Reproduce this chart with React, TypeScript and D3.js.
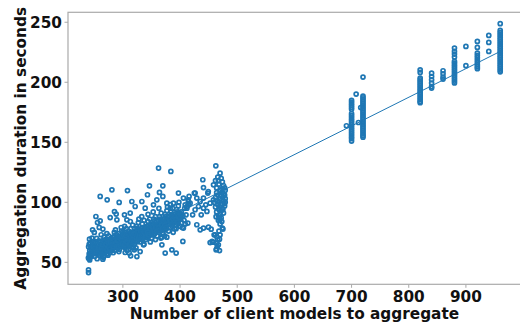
import React from "react";
import * as d3 from "d3";

// ---- data ----
const xTicks = [300, 400, 500, 600, 700, 800, 900];
const yTicks = [50, 100, 150, 200, 250];

// dense band of the small runs
const bandPoints: [number, number][] = [
  [240,54],[241,57],[242,60],[240,63],[243,66],[245,55],[246,59],[244,62],[247,64],[248,57],[249,61],[242,52],[246,67],[250,58],[250,64],[243,58],
  [251,55],[252,60],[253,63],[254,57],[255,66],[256,61],[257,59],[258,68],[259,56],[260,63],[252,67],[255,53],[258,62],[254,70],
  [261,58],[262,65],[263,61],[264,68],[265,57],[266,63],[267,71],[268,60],[269,66],[270,62],[262,73],[266,55],[269,69],[264,59],
  [271,59],[272,64],[273,68],[274,61],[275,72],[276,66],[277,58],[278,63],[279,70],[280,60],[272,74],[276,69],[279,65],[274,56],
  [281,62],[282,67],[283,71],[284,64],[285,75],[286,60],[287,69],[288,65],[289,73],[290,62],[283,58],[287,77],[289,67],
  [291,64],[292,70],[293,74],[294,61],[295,67],[296,72],[297,65],[298,76],[299,69],[300,63],[293,59],[297,79],[300,72],
  [301,66],[302,71],[303,75],[304,62],[305,68],[306,78],[307,64],[308,73],[309,70],[310,66],[303,80],[307,60],[310,76],
  [311,68],[312,74],[313,64],[314,78],[315,71],[316,66],[317,81],[318,69],[319,75],[320,65],[313,84],[318,62],[320,78],
  [321,70],[322,76],[323,67],[324,80],[325,73],[326,68],[327,83],[328,71],[329,77],[330,67],[323,62],[328,86],
  [331,72],[332,78],[333,69],[334,82],[335,75],[336,70],[337,85],[338,73],[339,79],[340,69],[333,88],[337,65],
  [341,74],[342,80],[343,71],[344,84],[345,77],[346,72],[347,86],[348,75],[349,81],[350,70],[344,90],[348,67],
  [351,76],[352,82],[353,73],[354,86],[355,79],[356,74],[357,88],[358,77],[359,84],[360,72],[353,92],[357,69],
  [361,78],[362,84],[363,75],[364,88],[365,81],[366,76],[367,91],[368,79],[369,86],[370,74],[363,95],[368,71],
  [371,80],[372,86],[373,77],[374,90],[375,83],[376,78],[377,93],[378,81],[379,88],[380,76],[373,72],[378,96],
  [381,82],[382,88],[383,79],[384,92],[385,85],[386,80],[387,95],[388,83],[389,90],[390,78],[383,98],[388,75],
  [391,84],[392,90],[393,81],[394,94],[395,87],[396,82],[397,97],[398,85],[399,91],[400,80],[393,78],[398,100],
  [401,86],[402,92],[403,83],[405,89],[407,85],[408,95],[404,79],[409,82],
];

// more readings inside the band, where it is solid
const bandFill: [number, number][] = [
  [244,56.5],[247,60.5],[241,65],[249,66],[252,57.5],[256,64.5],[259,59.5],[261,67],[263,56.5],[265,62],[268,65.5],
  [271,62.5],[273,57],[275,64],[277,68.5],[280,66.5],[282,60],[284,69],[286,64],[288,71],[290,67.5],[292,62.5],
  [294,66],[296,69.5],[298,64],[300,75],[302,68.5],[304,73],[306,65],[308,69],[310,71],[312,66],[314,70.5],
  [316,74.5],[318,72],[320,69],[322,73],[324,67.5],[326,77],[328,74],[330,71],[332,74.5],[334,72],[336,77],
  [338,76],[340,73],[342,77],[344,74],[346,79],[348,78.5],[350,75],[352,79],[354,76.5],[356,81],[358,80.5],
  [360,77],[362,80.5],[364,78],[366,84],[368,82.5],[370,79],[372,83],[374,80.5],[376,86],[378,85],[380,82],
  [382,85],[384,82.5],[386,88],[388,87],[390,84],[392,87],[394,84.5],[396,90],[398,88.5],[400,86],[402,89],
  [395,92],[385,90],[375,88],[365,86],[355,84],[345,81],[335,79],[325,75],[315,73],[305,70],[295,70],
  [285,68],[275,66.5],[265,65],[255,61],[245,58],
];

// further band readings between the two sets above
const bandCore: [number, number][] = [
  [242,55.5],[245,61.5],[248,63],[251,62],[253,59],[257,62.5],[260,60],[262,62],[264,64.5],[267,58.5],[267,67.5],
  [270,65],[272,60.5],[274,66.5],[277,61],[278,67],[281,65],[283,63],[285,71.5],[287,66],[289,63.5],[291,68],
  [293,71],[295,64],[297,71.5],[299,66],[301,73],[303,64.5],[305,72],[307,67],[309,74],[311,65],[313,71],
  [315,68],[317,72],[319,67],[321,74],[323,70.5],[325,78],[327,70],[329,73.5],[331,76],[333,72],[335,71.5],
  [337,75],[339,71],[341,78],[343,75],[345,73],[347,78],[349,74],[351,80],[353,77],[355,75.5],[357,79],
  [359,76],[361,82],[363,79],[365,77],[367,81],[369,78],[371,84],[373,81],[375,79],[377,85],[379,82],
  [381,86],[383,84],[385,81.5],[387,86],[389,85],[391,88],[393,86],[395,83.5],[397,88],[399,87],[401,90],
];

// scattered points above the band
const upperPoints: [number, number][] = [
  [362.4,128.5],[383.9,125.7],[280.8,110.4],[308,109.8],[260.3,104.9],[272.5,102.1],[293.5,99.9],[315.7,100.7],
  [333.2,100.7],[346.5,113.7],[343,106.3],[364,108.2],[369.9,113.7],[359.4,102.1],[369.9,104.9],[397.2,107.7],
  [388.5,99.3],[321.5,96.5],[339,95.1],[353.5,97.9],[376.9,99.3],[382.7,95.1],[405.9,103.5],[411.9,96.5],
  [252.8,88.2],[255.6,83.2],[260.3,84.6],[247,77.1],[250,74.9],[241.6,69.3],[285.3,92.3],[288.3,90.2],
  [277.8,87.3],[289.5,85.4],[302.8,89.6],[307,85.4],[312.8,91],[265,77.7],[258.6,79.1],[245.9,70.2],
];

// scattered points below the band
const lowerPoints: [number, number][] = [
  [239.9,43.7],[239.9,41.5],[239.9,53.5],[266,54.3],[260.3,55.4],[265,52.6],[241.7,53.5],[304,58.2],[309.8,60.4],
  [313.6,55.4],[311.3,57.7],[320,60.4],[324.5,54.8],[330.2,59],[315.7,63.2],[336,64.6],[368.2,64.6],[374,57.7],
  [385.7,60.4],[393.2,57.7],[404.9,67.4],[366.4,70.2],[405.9,78.5],[376.9,71],
];

// sparse region between 400 and 460
const middlePoints: [number, number][] = [
  [439.8,118.8],[441,112.3],[448.6,107.7],[426.4,107.7],[414.2,102.1],[414.8,98],[425,107.7],[449.4,109],
  [414.7,100.7],[417.6,99.3],[408.9,97.9],[429.3,103.5],[435.1,100.7],[441,103.5],[445,97.9],[452.6,99.3],
  [458.5,102.1],[432.2,96.5],[441,95.1],[426.3,93.8],[422,89.6],[437,89.6],[447,92.4],[412,95.1],[410.5,89.6],
  [413.6,82.7],[429.3,81.3],[435.2,77.1],[441,78.5],[449.7,79.3],[454.4,77.6],[415.8,104.9],
];

// dense column near 470 clients
const columnPoints: [number, number][] = [
  [462,118],[466,121],[470,124.3],[472,120],[474,117],[476,114],[478,112],[468,115],[464,112],[470,110],
  [474,108],[478,106],[466,106],[462,104],[470,103],[476,101],[479,103],[472,99],[466,98],[462,96],
  [468,94],[474,95],[478,97],[464,92],[470,90],[476,91],[472,87],[467,85],[470,85.4],[474,78.5],
  [462.6,130.4],[458.5,114.6],[464,108],[468,100],[460,100],[472,93],[476,107],[479,110],[463,88],[475,104],
  [469,86.8],[473,84],[475,77.7],[470,72.9],[469,69.3],[467,64.6],[464,61],[469,59.8],[458,66.8],[452.6,66.5],
  [459.6,72.9],[461.4,72.9],[464,71.5],[466,68.8],[464,66],[465,63.2],[463,60.4],[456,67.4],[470,82],[468,76],
  [467,118],[473,111],[471,106],[465,101],[477,99],[469,96],[473,102],[467,89],[475,94],[479,100],
];

// vertical strips of the large runs: client counts and their durations
const stripX = [700, 720, 820, 840, 860, 880, 900, 920, 940, 960];
const strip700 = [185, 183.5, 182, 180.5, 179, 177.5, 174, 172.5, 171, 169.5, 168, 166.5, 165, 163.5, 162, 160.5, 159, 157.5, 156, 154.5, 153, 151];
const strip720 = [188.5, 187, 185.5, 184, 182.5, 181, 179.5, 178, 176.5, 175, 173.5, 172, 170.5, 169, 167.5, 166, 164.5, 163, 161.5, 160, 158.5, 157, 155.5, 154.3, 204.3];
const strip820 = [210.4, 208.2, 203.5, 202, 200.5, 199, 197.5, 196, 194.5, 193, 191.5, 190, 188.5, 187, 185.5, 184, 183];
const strip840 = [207.6, 204.8, 202.1, 199.3, 196.5, 195.2];
const strip860 = [209.6, 207.1, 204.3, 202.7];
const strip880 = [228.5, 225.7, 223.5, 221, 217.4, 216, 214.5, 213, 211.5, 210, 208.5, 207, 205.5, 204, 202.5, 201, 199.5];
const strip900 = [229.9, 213.8];
const strip920 = [234, 229, 224.3, 222.5, 220.5, 218.5, 216.5, 214.5, 212.8, 211.3];
const strip940 = [239, 233.2, 225.7];
const strip960 = [248.8, 243.2, 241.7, 240.2, 238.7, 237.2, 235.7, 234.2, 232.7, 231.2, 229.7, 228.2, 226.7, 225.2, 223.7, 222.2, 220.7, 219.2, 217.7, 216.2, 214.7, 213.2, 211.7, 210.2, 208.7];
const stripY = [strip700, strip720, strip820, strip840, strip860, strip880, strip900, strip920, strip940, strip960];

// stray points next to the 700/720 strips
const nearStrips: [number, number][] = [[691, 163.8], [708, 190.2], [712, 166.5], [716, 179]];

// fitted line
const fitX = [240, 960];
const fitY = [53.8, 225.7];

const W = 520;
const H = 326;
const left = 68;
const right = 520.8;
const top = 12.3;
const bottom = 284.3;
const BLUE = "#1f77b4";
const FONT = "'DejaVu Sans', sans-serif";
const FS = 15.3;

export default function App() {
  const x = d3.scaleLinear().domain([204, 996]).range([left, right]);
  const y = d3.scaleLinear().domain([31.7, 258.3]).range([bottom, top]);

  const stripPoints: [number, number][] = [];
  stripX.forEach((sx, i) => stripY[i].forEach((v) => stripPoints.push([sx, v])));

  const all: [number, number][] = [
    ...bandPoints, ...bandFill, ...bandCore, ...upperPoints, ...lowerPoints, ...middlePoints, ...columnPoints, ...stripPoints, ...nearStrips,
  ];

  const line = d3.line<number>().x((d) => x(d)).y((_, i) => y(fitY[i]))(fitX) || "";

  return (
    <svg width={W} height={H} style={{ position: "absolute", left: 0, top: 0, background: "#fff" }}>
      <rect x={0} y={0} width={W} height={H} fill="#fff" />
      <g>
        {all.map((p, i) => (
          <circle key={i} cx={x(p[0])} cy={y(p[1])} r={2.0} fill="none" stroke={BLUE} strokeWidth={1.7} />
        ))}
      </g>
      <path d={line} stroke={BLUE} strokeWidth={1} fill="none" />
      {/* frame */}
      <rect x={left} y={top} width={right - left} height={bottom - top} fill="none" stroke="#aaaaaa" strokeWidth={1.2} />
      {/* x ticks */}
      {xTicks.map((t) => (
        <g key={"x" + t} transform={`translate(${x(t)},${bottom})`}>
          <line y1={0} y2={3.5} stroke="#aaaaaa" strokeWidth={1} />
          <text y={17.3} textAnchor="middle" fontFamily={FONT} fontWeight="bold" fontSize={FS} fill="#111">{t}</text>
        </g>
      ))}
      {/* y ticks */}
      {yTicks.map((t) => (
        <g key={"y" + t} transform={`translate(${left},${y(t)})`}>
          <line x1={0} x2={-3.5} stroke="#aaaaaa" strokeWidth={1} />
          <text x={-6} dy="0.36em" textAnchor="end" fontFamily={FONT} fontWeight="bold" fontSize={FS} fill="#111">{t}</text>
        </g>
      ))}
      <text x={(left + right) / 2} y={318.5} textAnchor="middle" fontFamily={FONT} fontWeight="bold" fontSize={FS} fill="#111">
        Number of client models to aggregate
      </text>
      <text transform={`translate(26,${(top + bottom) / 2}) rotate(-90)`} textAnchor="middle" fontFamily={FONT} fontWeight="bold" fontSize={FS} fill="#111">
        Aggregation duration in seconds
      </text>
    </svg>
  );
}
